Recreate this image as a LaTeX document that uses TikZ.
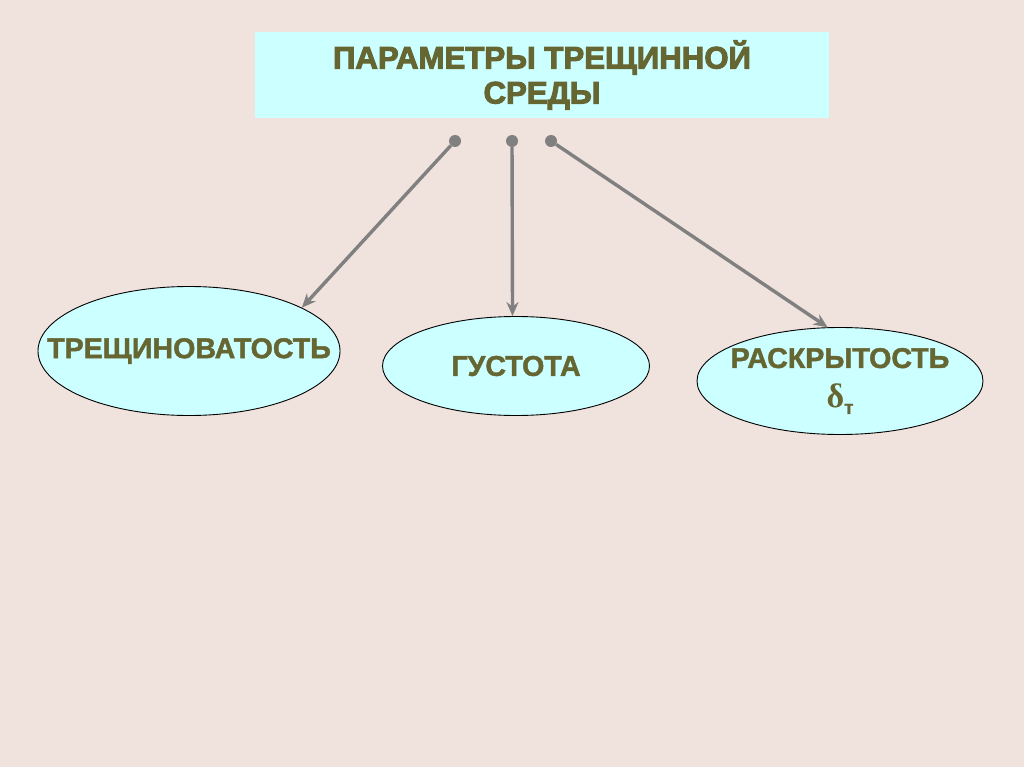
\documentclass[tikz,border=0pt]{standalone}
\usepackage{fontspec}
\setmainfont{Liberation Sans}[BoldFeatures={FakeBold=1.6}]
\newfontfamily\titlefont{Liberation Sans}[BoldFeatures={FakeBold=3.2}]
\newfontfamily\greekfont{Liberation Serif}
\usepackage{xcolor}
\usetikzlibrary{arrows.meta,shapes.geometric}
\definecolor{bgpink}{HTML}{F0E2DD}
\definecolor{paleaqua}{HTML}{CCFFFF}
\definecolor{olivetxt}{HTML}{666633}
\definecolor{linkgray}{HTML}{808080}
\begin{document}
\begin{tikzpicture}[x=1pt, y=-1pt,
  font=\bfseries, text=olivetxt,
  oval/.style={draw=black, line width=0.9pt, ellipse, fill=paleaqua, inner sep=0pt, align=center, font=\bfseries\fontsize{28.6}{40}\selectfont},
  dot/.style={circle, fill=linkgray, inner sep=0pt, minimum size=12pt},
  link/.style={draw=linkgray, line width=3.4pt, -{Stealth[length=14pt, width=12pt]}}]
\fill[bgpink] (0,0) rectangle (1024,767);
\useasboundingbox (0,0) rectangle (1024,767);
% title
\node[fill=paleaqua, minimum width=574pt, minimum height=86pt, align=center,
  font=\titlefont\bfseries\fontsize{31.2}{35}\selectfont] (title) at (542,75)
  {ПАРАМЕТРЫ ТРЕЩИННОЙ\\СРЕДЫ};
\node[dot] (d1) at (455,141) {};
\node[dot] (d2) at (512,141) {};
\node[dot] (d3) at (551,141) {};
% parameters
\node[oval, minimum width=302pt, minimum height=129pt] (crack) at (189,351) {\makebox[0pt]{ТРЕЩИНОВАТОСТЬ}};
\node[oval, minimum width=267pt, minimum height=99pt] (dens) at (516,366) {\makebox[0pt]{ГУСТОТА}};
\node[oval, minimum width=286pt, minimum height=107pt] (open) at (840,381) {\makebox[0pt]{РАСКРЫТОСТЬ}\\\makebox[0pt]{{\greekfont\fontsize{34}{34}\selectfont δ}\raisebox{-6pt}{\fontsize{19}{19}\selectfont т}}};
\draw[link] (d1) -- (crack.21);
\draw[link] (d2) -- (dens.94);
\draw[link] (d3) -- (open.103);
\end{tikzpicture}
\end{document}
